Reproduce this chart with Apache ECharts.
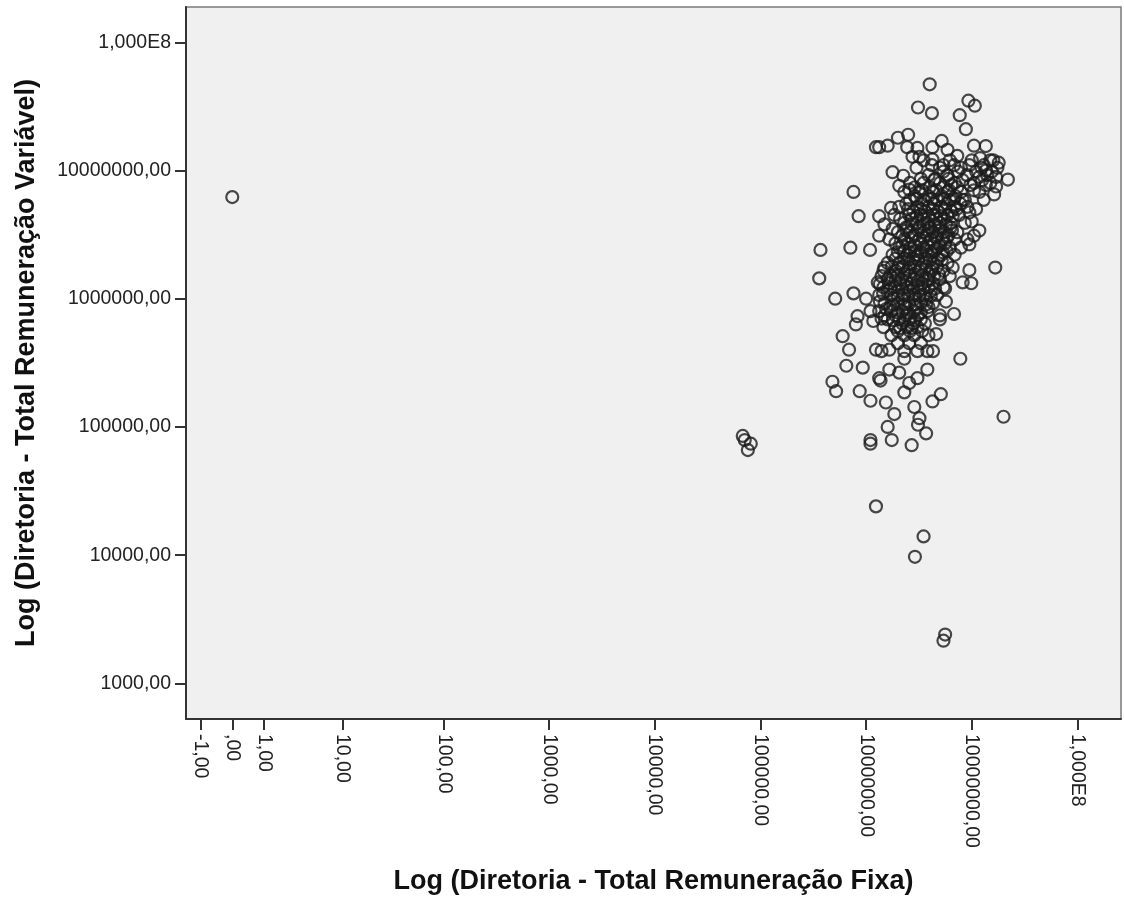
<!DOCTYPE html>
<html>
<head>
<meta charset="utf-8">
<title>Diretoria - Remuneração</title>
<script src="https://cdn.jsdelivr.net/npm/echarts@6/dist/echarts.min.js"></script>
<style>
  html, body { margin: 0; padding: 0; background: #fff; }
  #chart { width: 1124px; height: 897px; }
</style>
</head>
<body>
<div id="chart"></div>
<script>
// marcas dos eixos (valores originais e textos como no SPSS)
var xTickValues = [-1, 0, 1, 10, 100, 1000, 10000, 100000, 1000000, 10000000, 100000000];
var xTickLabels = ["-1,00", ",00", "1,00", "10,00", "100,00", "1000,00", "10000,00", "100000,00", "1000000,00", "10000000,00", "1,000E8"];
var yTickValues = [1000, 10000, 100000, 1000000, 10000000, 100000000];
var yTickLabels = ["1000,00", "10000,00", "100000,00", "1000000,00", "10000000,00", "1,000E8"];

// [remuneração fixa, remuneração variável] por empresa
var diretoria = [
  [0, 6.2e6],
  [6.8e4, 8.5e4], [7.1e4, 7.9e4], [8.1e4, 7.4e4], [7.6e4, 6.6e4],
  [1.1e6, 7.9e4], [1.1e6, 7.4e4], [1.6e6, 1.0e5], [1.75e6, 7.9e4], [2.7e6, 7.2e4],
  [3.1e6, 1.04e5], [3.7e6, 8.9e4], [2.0e7, 1.2e5], [1.24e6, 2.4e4], [3.5e6, 1.4e4],
  [2.9e6, 9.7e3], [5.6e6, 2.4e3], [5.4e6, 2.15e3],
  [8.0e5, 6.3e5], [6.0e5, 5.1e5], [6.9e5, 4.0e5], [1.24e6, 4.0e5], [1.4e6, 3.9e5],
  [1.66e6, 4.0e5], [6.5e5, 3.0e5], [9.3e5, 2.9e5], [4.8e5, 2.25e5], [5.2e5, 1.9e5],
  [8.7e5, 1.9e5], [1.1e6, 1.6e5], [1.33e6, 2.4e5], [1.37e6, 2.3e5], [1.66e6, 2.8e5],
  [1.54e6, 1.55e5], [1.85e6, 1.26e5], [2.3e6, 1.86e5], [2.86e6, 1.43e5], [3.2e6, 1.17e5],
  [4.25e6, 1.58e5], [5.1e6, 1.8e5], [3.8e6, 2.8e5], [3.06e6, 2.4e5], [2.56e6, 2.2e5],
  [7.8e6, 3.4e5], [6.8e6, 7.6e5], [2.06e6, 2.65e5], [2.3e6, 3.4e5],
  [7.6e5, 6.8e6], [8.5e5, 4.4e6], [1.33e6, 4.4e6], [1.72e6, 5.1e6], [3.7e5, 2.4e6],
  [7.1e5, 2.5e6], [1.09e6, 2.4e6], [1.33e6, 3.1e6], [3.6e5, 1.44e6], [5.1e5, 1.0e6],
  [7.6e5, 1.1e6], [1.29e6, 1.34e6], [1.49e6, 1.75e6],
  [4.0e6, 4.7e7], [3.1e6, 3.1e7], [4.2e6, 2.8e7], [9.3e6, 3.5e7], [1.07e7, 3.2e7],
  [7.7e6, 2.7e7], [8.8e6, 2.1e7], [1.24e6, 1.52e7], [1.33e6, 1.52e7], [1.6e6, 1.56e7],
  [2.0e6, 1.8e7], [2.5e6, 1.9e7], [2.45e6, 1.52e7], [3.06e6, 1.5e7], [3.2e6, 1.28e7],
  [4.25e6, 1.52e7], [5.2e6, 1.7e7], [2.75e6, 1.28e7], [1.78e6, 9.7e6], [2.25e6, 9.1e6],
  [1.05e7, 1.56e7], [1.36e7, 1.55e7], [1.8e7, 1.15e7], [2.2e7, 8.5e6], [7.3e6, 1.3e7],
  [4.25e6, 1.22e7],
  [1.63e7, 6.5e6], [1.7e7, 7.5e6], [1.1e7, 5.0e6], [1.18e7, 3.4e6], [1.05e7, 3.1e6],
  [9.5e6, 2.65e6], [1.67e7, 1.75e6], [9.5e6, 1.67e6], [8.2e6, 1.34e6], [9.9e6, 1.32e6],
  [6.6e6, 1.75e6], [1.2e7, 1.25e7], [1.6e7, 1.2e7], [1.36e7, 1.0e7], [1.7e7, 8.9e6],
  [1.18e7, 8.9e6], [1.36e7, 7.7e6], [1.05e7, 7.0e6], [5.9e6, 1.45e7], [5.4e6, 1.1e7],
  [2.06e6, 7.6e6], [2.56e6, 7.1e6], [1.49e6, 3.8e6], [1.78e6, 3.5e6], [6.2e6, 1.5e6],
  [5.6e6, 1.2e6], [5.7e6, 9.5e5], [5.0e6, 7.4e5], [9.5e6, 4.7e6], [8.2e6, 5.9e6],
  [1.0e7, 4.0e6], [4.6e6, 5.3e5], [3.8e6, 3.9e5], [1.1e6, 8.0e5], [1.17e6, 6.7e5],
  [1.0e6, 1.0e6], [8.3e5, 7.3e5],
  [3.5e6, 1.2e7], [6.2e6, 1.2e7], [1.0e7, 1.2e7], [1.5e7, 1.2e7],
  [3.0e6, 1.05e7], [5.0e6, 1.05e7], [7.9e6, 1.05e7], [1.24e7, 1.05e7], [1.75e7, 1.05e7],
  [3.9e6, 9.2e6], [5.9e6, 9.2e6], [9.0e6, 9.2e6], [1.4e7, 9.2e6],
  [2.6e6, 8.0e6], [3.5e6, 8.0e6], [5.0e6, 8.0e6], [6.9e6, 8.0e6], [1.05e7, 8.0e6], [1.5e7, 8.0e6],
  [2.3e6, 6.8e6], [3.2e6, 6.8e6], [4.3e6, 6.8e6], [5.9e6, 6.8e6], [7.9e6, 6.8e6], [1.18e7, 6.8e6],
  [2.6e6, 5.9e6], [3.5e6, 5.9e6], [4.7e6, 5.9e6], [6.2e6, 5.9e6], [8.6e6, 5.9e6], [1.3e7, 5.9e6],
  [2.06e6, 5.2e6], [3.06e6, 5.2e6], [3.9e6, 5.2e6], [5.2e6, 5.2e6], [6.9e6, 5.2e6], [9.1e6, 5.2e6],
  [1.85e6, 4.5e6], [2.56e6, 4.5e6], [3.3e6, 4.5e6], [4.3e6, 4.5e6], [5.9e6, 4.5e6], [7.6e6, 4.5e6],
  [2.3e6, 3.9e6], [3.06e6, 3.9e6], [3.8e6, 3.9e6], [5.0e6, 3.9e6], [6.4e6, 3.9e6], [8.6e6, 3.9e6],
  [2.0e6, 3.3e6], [2.6e6, 3.3e6], [3.5e6, 3.3e6], [4.3e6, 3.3e6], [5.4e6, 3.3e6], [7.3e6, 3.3e6],
  [1.66e6, 2.9e6], [2.3e6, 2.9e6], [3.2e6, 2.9e6], [4.1e6, 2.9e6], [5.2e6, 2.9e6], [6.9e6, 2.9e6], [9.1e6, 2.9e6],
  [2.06e6, 2.5e6], [2.6e6, 2.5e6], [3.5e6, 2.5e6], [4.7e6, 2.5e6], [6.2e6, 2.5e6], [7.9e6, 2.5e6],
  [1.78e6, 2.2e6], [2.45e6, 2.2e6], [3.06e6, 2.2e6], [3.9e6, 2.2e6], [5.2e6, 2.2e6], [6.9e6, 2.2e6],
  [1.6e6, 1.9e6], [2.06e6, 1.9e6], [2.6e6, 1.9e6], [3.5e6, 1.9e6], [4.3e6, 1.9e6], [5.9e6, 1.9e6],
  [1.46e6, 1.65e6], [1.9e6, 1.65e6], [2.45e6, 1.65e6], [3.2e6, 1.65e6], [4.1e6, 1.65e6], [5.4e6, 1.65e6],
  [1.6e6, 1.42e6], [2.16e6, 1.42e6], [2.86e6, 1.42e6], [3.8e6, 1.42e6], [5.0e6, 1.42e6],
  [1.46e6, 1.23e6], [1.85e6, 1.23e6], [2.45e6, 1.23e6], [3.06e6, 1.23e6], [3.9e6, 1.23e6], [5.4e6, 1.23e6],
  [1.33e6, 1.07e6], [1.74e6, 1.07e6], [2.3e6, 1.07e6], [2.86e6, 1.07e6], [3.5e6, 1.07e6], [4.7e6, 1.07e6],
  [1.5e6, 9.2e5], [2.0e6, 9.2e5], [2.56e6, 9.2e5], [3.3e6, 9.2e5], [4.3e6, 9.2e5],
  [1.33e6, 8.0e5], [1.74e6, 8.0e5], [2.2e6, 8.0e5], [2.86e6, 8.0e5], [3.8e6, 8.0e5],
  [1.6e6, 6.9e5], [2.06e6, 6.9e5], [2.6e6, 6.9e5], [3.3e6, 6.9e5], [5.0e6, 6.9e5],
  [1.46e6, 6.0e5], [1.9e6, 6.0e5], [2.45e6, 6.0e5], [3.06e6, 6.0e5],
  [1.74e6, 5.2e5], [2.3e6, 5.2e5], [2.86e6, 5.2e5], [3.9e6, 5.2e5],
  [2.0e6, 4.5e5], [2.56e6, 4.5e5], [3.3e6, 4.5e5],
  [2.3e6, 3.9e5], [3.06e6, 3.9e5], [4.3e6, 3.9e5],
  [2.9e6, 7.4e6], [4.0e6, 7.4e6], [5.4e6, 7.4e6], [7.3e6, 7.4e6],
  [2.9e6, 6.3e6], [3.9e6, 6.3e6], [5.2e6, 6.3e6], [7.0e6, 6.3e6],
  [2.4e6, 5.5e6], [3.4e6, 5.5e6], [4.4e6, 5.5e6], [5.8e6, 5.5e6], [7.8e6, 5.5e6],
  [2.8e6, 4.8e6], [3.6e6, 4.8e6], [4.8e6, 4.8e6], [6.4e6, 4.8e6],
  [2.1e6, 4.2e6], [2.7e6, 4.2e6], [3.5e6, 4.2e6], [4.6e6, 4.2e6], [5.5e6, 4.2e6],
  [2.4e6, 3.6e6], [3.2e6, 3.6e6], [4.0e6, 3.6e6], [4.9e6, 3.6e6], [6.3e6, 3.6e6],
  [2.2e6, 3.1e6], [2.9e6, 3.1e6], [3.8e6, 3.1e6], [4.7e6, 3.1e6], [6.0e6, 3.1e6],
  [1.9e6, 2.7e6], [2.5e6, 2.7e6], [3.3e6, 2.7e6], [4.4e6, 2.7e6], [5.6e6, 2.7e6],
  [2.3e6, 2.35e6], [2.9e6, 2.35e6], [3.7e6, 2.35e6], [4.4e6, 2.35e6], [5.8e6, 2.35e6],
  [1.9e6, 2.05e6], [2.3e6, 2.05e6], [2.8e6, 2.05e6], [3.7e6, 2.05e6], [4.8e6, 2.05e6],
  [1.75e6, 1.78e6], [2.2e6, 1.78e6], [2.9e6, 1.78e6], [3.7e6, 1.78e6], [4.7e6, 1.78e6],
  [1.7e6, 1.52e6], [2.0e6, 1.52e6], [2.6e6, 1.52e6], [3.4e6, 1.52e6], [4.4e6, 1.52e6],
  [1.65e6, 1.32e6], [2.1e6, 1.32e6], [2.7e6, 1.32e6], [3.4e6, 1.32e6], [4.3e6, 1.32e6],
  [1.6e6, 1.15e6], [2.0e6, 1.15e6], [2.6e6, 1.15e6], [3.2e6, 1.15e6], [4.1e6, 1.15e6],
  [1.8e6, 1.0e6], [2.2e6, 1.0e6], [2.9e6, 1.0e6], [3.7e6, 1.0e6],
  [1.7e6, 8.6e5], [2.4e6, 8.6e5], [3.0e6, 8.6e5], [3.9e6, 8.6e5],
  [1.5e6, 7.4e5], [1.9e6, 7.4e5], [2.4e6, 7.4e5], [3.1e6, 7.4e5],
  [2.2e6, 6.4e5], [2.8e6, 6.4e5], [3.6e6, 6.4e5],
  [2.0e6, 5.6e5], [2.6e6, 5.6e5], [3.4e6, 5.6e5],
  [3.3e6, 8.6e6], [4.5e6, 8.6e6], [6.0e6, 8.6e6],
  [3.4e6, 7.0e6], [4.6e6, 7.0e6], [6.1e6, 7.0e6],
  [3.0e6, 6.0e6], [4.2e6, 6.0e6], [5.5e6, 6.0e6], [6.8e6, 6.0e6],
  [2.5e6, 5.0e6], [3.3e6, 5.0e6], [4.3e6, 5.0e6], [5.6e6, 5.0e6], [7.2e6, 5.0e6],
  [3.0e6, 4.4e6], [3.9e6, 4.4e6], [5.1e6, 4.4e6], [6.6e6, 4.4e6],
  [2.7e6, 3.8e6], [3.5e6, 3.8e6], [4.5e6, 3.8e6], [5.7e6, 3.8e6],
  [2.4e6, 3.4e6], [3.1e6, 3.4e6], [3.9e6, 3.4e6], [5.0e6, 3.4e6], [6.5e6, 3.4e6],
  [2.7e6, 3.0e6], [3.5e6, 3.0e6], [4.6e6, 3.0e6], [5.8e6, 3.0e6],
  [2.2e6, 2.6e6], [2.9e6, 2.6e6], [3.8e6, 2.6e6], [5.0e6, 2.6e6],
  [2.0e6, 2.3e6], [2.6e6, 2.3e6], [3.3e6, 2.3e6], [4.2e6, 2.3e6], [5.3e6, 2.3e6],
  [2.5e6, 2.0e6], [3.1e6, 2.0e6], [4.0e6, 2.0e6], [5.2e6, 2.0e6],
  [2.0e6, 1.75e6], [2.6e6, 1.75e6], [3.3e6, 1.75e6], [4.2e6, 1.75e6],
  [1.9e6, 1.55e6], [2.3e6, 1.55e6], [2.9e6, 1.55e6], [3.9e6, 1.55e6], [4.9e6, 1.55e6],
  [1.9e6, 1.38e6], [2.4e6, 1.38e6], [3.1e6, 1.38e6], [3.9e6, 1.38e6],
  [1.7e6, 1.2e6], [2.2e6, 1.2e6], [2.8e6, 1.2e6], [3.5e6, 1.2e6], [4.5e6, 1.2e6],
  [2.0e6, 1.05e6], [2.5e6, 1.05e6], [3.2e6, 1.05e6], [4.1e6, 1.05e6],
  [1.8e6, 9.0e5], [2.3e6, 9.0e5], [2.9e6, 9.0e5], [3.7e6, 9.0e5],
  [2.0e6, 7.8e5], [2.5e6, 7.8e5], [3.3e6, 7.8e5],
  [1.8e6, 6.8e5], [2.3e6, 6.8e5], [2.9e6, 6.8e5],
  [2.1e6, 5.9e5], [2.7e6, 5.9e5],
  [1.4e6, 1.5e6], [1.35e6, 1.3e6], [1.45e6, 1.1e6], [1.35e6, 9.5e5], [1.55e6, 8.3e5], [1.4e6, 7.0e5],
  [4.2e6, 1.1e7], [6.8e6, 1.1e7], [9.5e6, 1.1e7], [1.3e7, 1.1e7],
  [5.4e6, 9.8e6], [7.4e6, 9.8e6], [1.1e7, 9.8e6], [1.55e7, 9.8e6],
  [4.4e6, 8.4e6], [8.2e6, 8.4e6], [1.25e7, 8.4e6],
  [6.4e6, 7.7e6], [9.7e6, 7.7e6]
];

// escala log "segura" do SPSS: aceita zero e negativos
function safeLog(v) {
  return Math.sign(v) * Math.log10(Math.abs(v) + 1);
}

function tickLabel(values, labels) {
  return function (v) {
    for (var i = 0; i < values.length; i++) {
      if (Math.abs(safeLog(values[i]) - v) < 1e-6) return labels[i];
    }
    return "";
  };
}

var pontos = diretoria.map(function (p) {
  return [safeLog(p[0]), safeLog(p[1])];
});

var fonte = "'Liberation Sans', Arial, sans-serif";

var myChart = echarts.init(document.getElementById("chart"));
var option = {
  animation: false,
  backgroundColor: "#ffffff",
  grid: {
    left: 186,
    right: 3,
    top: 7,
    bottom: 178,
    show: true,
    backgroundColor: "#f0f0f1",
    borderColor: "#7a7a7a",
    borderWidth: 1.5,
    outerBoundsMode: "none"
  },
  xAxis: {
    type: "value",
    min: -0.438,
    max: 8.413,
    name: "Log (Diretoria - Total Remuneração Fixa)",
    nameLocation: "middle",
    nameGap: 149,
    nameTextStyle: { fontFamily: fonte, fontSize: 27, fontWeight: "bold", color: "#111" },
    splitLine: { show: false },
    axisLine: { show: true, onZero: false, lineStyle: { color: "#333", width: 2 } },
    axisTick: {
      show: true,
      length: 11,
      lineStyle: { color: "#333", width: 2 },
      customValues: xTickValues.map(safeLog)
    },
    axisLabel: {
      rotate: -90,
      margin: 15,
      fontFamily: fonte,
      fontSize: 19.5,
      color: "#222",
      customValues: xTickValues.map(safeLog),
      formatter: tickLabel(xTickValues, xTickLabels)
    }
  },
  yAxis: {
    type: "value",
    min: 2.722,
    max: 8.275,
    name: "Log (Diretoria - Total Remuneração Variável)",
    nameLocation: "middle",
    nameGap: 146,
    nameTextStyle: { fontFamily: fonte, fontSize: 27, fontWeight: "bold", color: "#111" },
    splitLine: { show: false },
    axisLine: { show: true, onZero: false, lineStyle: { color: "#333", width: 2 } },
    axisTick: {
      show: true,
      length: 11,
      lineStyle: { color: "#333", width: 2 },
      customValues: yTickValues.map(safeLog)
    },
    axisLabel: {
      margin: 15,
      fontFamily: fonte,
      fontSize: 19.5,
      color: "#222",
      customValues: yTickValues.map(safeLog),
      formatter: tickLabel(yTickValues, yTickLabels)
    }
  },
  series: [
    {
      type: "scatter",
      symbol: "circle",
      symbolSize: 12,
      itemStyle: {
        color: "rgba(0,0,0,0)",
        borderColor: "#1c1c1c",
        borderWidth: 2.2
      },
      data: pontos
    }
  ]
};

myChart.setOption(option);
</script>
</body>
</html>
